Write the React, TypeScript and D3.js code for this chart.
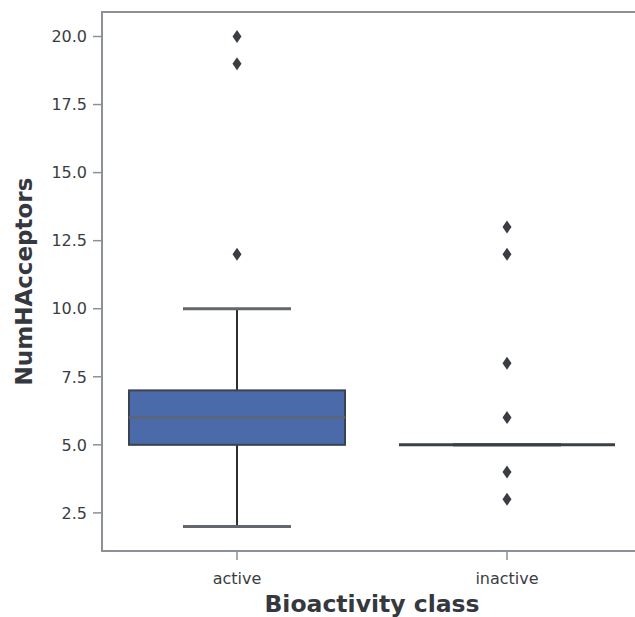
import React, { useMemo } from 'react';
import * as d3 from 'd3';

// bioactivity classes and their box statistics
const classes = ['active', 'inactive'];
const q1 = [5, 5];
const medians = [6, 5];
const q3 = [7, 5];
const whiskLow = [2, 5];
const whiskHigh = [10, 5];
const outliers = [
  [12, 19, 20],
  [3, 4, 6, 8, 12, 13],
];
const yTicks = [2.5, 5.0, 7.5, 10.0, 12.5, 15.0, 17.5, 20.0];

const W = 635;
const H = 617;
const M = { left: 102, top: 12, right: 642, bottom: 551 };

export default function App() {
  const { x, y } = useMemo(() => {
    const x = d3.scaleBand().domain(classes).range([M.left, M.right]).paddingInner(0).paddingOuter(0);
    const y = d3.scaleLinear().domain([1.1, 20.9]).range([M.bottom, M.top]);
    return { x, y };
  }, []);

  const bw = x.bandwidth();
  const font = 'DejaVu Sans, sans-serif';
  const frame = '#8c9197';

  return (
    <svg
      width={W}
      height={H}
      style={{ position: 'absolute', left: 0, top: 0, background: '#fff' }}
      fontFamily={font}
    >
      {classes.map((c, i) => {
        const cx = x(c)! + bw / 2;
        const half = bw * 0.4;
        const cap = bw * 0.2;
        return (
          <g key={c}>
            <line x1={cx} x2={cx} y1={y(q3[i])} y2={y(whiskHigh[i])} stroke="#2e2e33" strokeWidth={2} />
            <line x1={cx} x2={cx} y1={y(q1[i])} y2={y(whiskLow[i])} stroke="#2e2e33" strokeWidth={2} />
            <line x1={cx - cap} x2={cx + cap} y1={y(whiskHigh[i])} y2={y(whiskHigh[i])} stroke="#62676d" strokeWidth={3} />
            <line x1={cx - cap} x2={cx + cap} y1={y(whiskLow[i])} y2={y(whiskLow[i])} stroke="#62676d" strokeWidth={3} />
            {q3[i] > q1[i] ? (
              <rect
                x={cx - half}
                y={y(q3[i])}
                width={half * 2}
                height={y(q1[i]) - y(q3[i])}
                fill="#4a6aa9"
                stroke="#3b4350"
                strokeWidth={2}
              />
            ) : null}
            <line
              x1={cx - half}
              x2={cx + half}
              y1={y(medians[i])}
              y2={y(medians[i])}
              stroke={q3[i] > q1[i] ? '#5e6575' : '#3b4048'}
              strokeWidth={q3[i] > q1[i] ? 2.5 : 3}
            />
            {outliers[i].map((v, k) => {
              const py = y(v);
              return (
                <path
                  key={k}
                  d={`M${cx},${py - 6.5}L${cx + 4.5},${py}L${cx},${py + 6.5}L${cx - 4.5},${py}Z`}
                  fill="#3a3d42"
                />
              );
            })}
          </g>
        );
      })}

      {/* frame */}
      <rect
        x={M.left}
        y={M.top}
        width={M.right - M.left}
        height={M.bottom - M.top}
        fill="none"
        stroke={frame}
        strokeWidth={2}
      />

      {/* y axis */}
      {yTicks.map((t) => (
        <g key={t} transform={`translate(0,${y(t)})`}>
          <line x1={M.left - 9} x2={M.left} stroke={frame} strokeWidth={1.5} />
          <text x={M.left - 15} dy="0.36em" textAnchor="end" fontSize={16} fill="#3a3d44">
            {t.toFixed(1)}
          </text>
        </g>
      ))}

      {/* x axis */}
      {classes.map((c) => {
        const cx = x(c)! + bw / 2;
        return (
          <g key={c}>
            <line x1={cx} x2={cx} y1={M.bottom} y2={M.bottom + 9} stroke={frame} strokeWidth={1.5} />
            <text x={cx} y={M.bottom + 33} textAnchor="middle" fontSize={16} fill="#3a3d44">
              {c}
            </text>
          </g>
        );
      })}

      <text
        x={(M.left + M.right) / 2}
        y={612}
        textAnchor="middle"
        fontSize={23.5}
        fontWeight="bold"
        fill="#35383e"
      >
        Bioactivity class
      </text>
      <text
        transform={`translate(32,${(M.top + M.bottom) / 2}) rotate(-90)`}
        textAnchor="middle"
        fontSize={23}
        fontWeight="bold"
        fill="#35383e"
      >
        NumHAcceptors
      </text>
    </svg>
  );
}
